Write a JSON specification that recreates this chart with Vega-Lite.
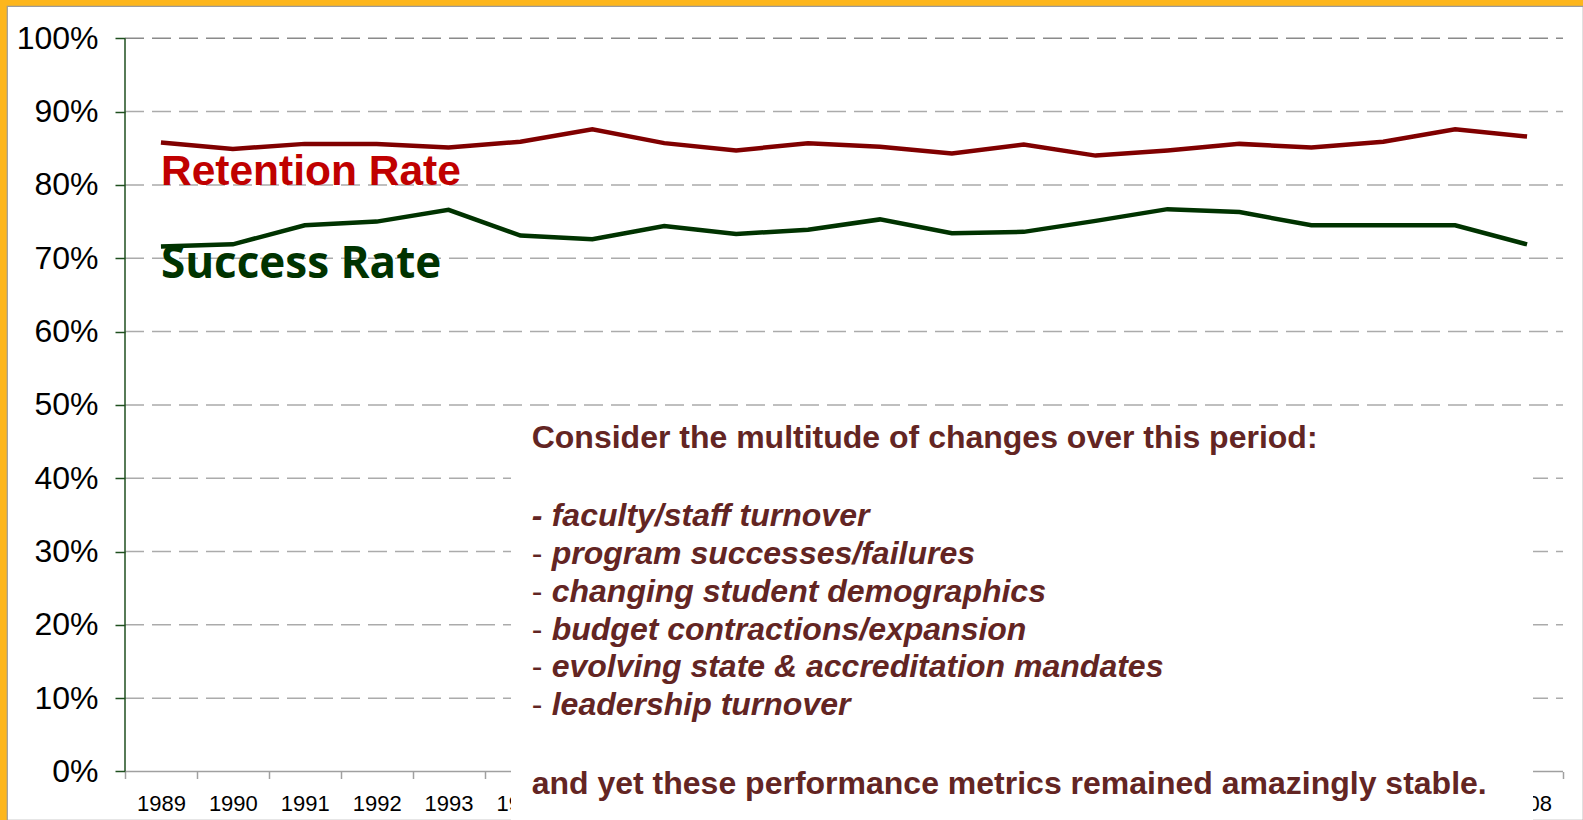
{
  "$schema": "https://vega.github.io/schema/vega-lite/v6.json",
  "width": 1576,
  "height": 814,
  "autosize": {"type": "none"},
  "padding": {"left": 7, "top": 6, "right": 0, "bottom": 0},
  "background": "#FDB61C",
  "config": {"view": {"fill": "#FFFFFF", "stroke": "#9C9C9C", "strokeWidth": 1.2}},
  "datasets": {
    "rates": [
      {"year": 1989, "series": "Retention Rate", "rate": 85.8},
      {"year": 1990, "series": "Retention Rate", "rate": 84.9},
      {"year": 1991, "series": "Retention Rate", "rate": 85.6},
      {"year": 1992, "series": "Retention Rate", "rate": 85.6},
      {"year": 1993, "series": "Retention Rate", "rate": 85.1},
      {"year": 1994, "series": "Retention Rate", "rate": 85.9},
      {"year": 1995, "series": "Retention Rate", "rate": 87.6},
      {"year": 1996, "series": "Retention Rate", "rate": 85.7},
      {"year": 1997, "series": "Retention Rate", "rate": 84.7},
      {"year": 1998, "series": "Retention Rate", "rate": 85.7},
      {"year": 1999, "series": "Retention Rate", "rate": 85.2},
      {"year": 2000, "series": "Retention Rate", "rate": 84.3},
      {"year": 2001, "series": "Retention Rate", "rate": 85.5},
      {"year": 2002, "series": "Retention Rate", "rate": 84.0},
      {"year": 2003, "series": "Retention Rate", "rate": 84.7},
      {"year": 2004, "series": "Retention Rate", "rate": 85.6},
      {"year": 2005, "series": "Retention Rate", "rate": 85.1},
      {"year": 2006, "series": "Retention Rate", "rate": 85.9},
      {"year": 2007, "series": "Retention Rate", "rate": 87.6},
      {"year": 2008, "series": "Retention Rate", "rate": 86.6},
      {"year": 1989, "series": "Success Rate", "rate": 71.6},
      {"year": 1990, "series": "Success Rate", "rate": 71.9},
      {"year": 1991, "series": "Success Rate", "rate": 74.5},
      {"year": 1992, "series": "Success Rate", "rate": 75.0},
      {"year": 1993, "series": "Success Rate", "rate": 76.6},
      {"year": 1994, "series": "Success Rate", "rate": 73.1},
      {"year": 1995, "series": "Success Rate", "rate": 72.6},
      {"year": 1996, "series": "Success Rate", "rate": 74.4},
      {"year": 1997, "series": "Success Rate", "rate": 73.3},
      {"year": 1998, "series": "Success Rate", "rate": 73.9},
      {"year": 1999, "series": "Success Rate", "rate": 75.3},
      {"year": 2000, "series": "Success Rate", "rate": 73.4},
      {"year": 2001, "series": "Success Rate", "rate": 73.6},
      {"year": 2002, "series": "Success Rate", "rate": 75.1},
      {"year": 2003, "series": "Success Rate", "rate": 76.7},
      {"year": 2004, "series": "Success Rate", "rate": 76.3},
      {"year": 2005, "series": "Success Rate", "rate": 74.5},
      {"year": 2006, "series": "Success Rate", "rate": 74.5},
      {"year": 2007, "series": "Success Rate", "rate": 74.5},
      {"year": 2008, "series": "Success Rate", "rate": 71.9}
    ],
    "grid": [
      {"pct": 10}, {"pct": 20}, {"pct": 30}, {"pct": 40}, {"pct": 50},
      {"pct": 60}, {"pct": 70}, {"pct": 80}, {"pct": 90}, {"pct": 100}
    ]
  },
  "layer": [
    {
      "data": {"name": "grid"},
      "mark": {"type": "rule", "strokeWidth": 1.5, "strokeDash": [19, 8]},
      "encoding": {
        "x": {"datum": 1988.5, "type": "quantitative"},
        "x2": {"datum": 2008.5},
        "y": {"field": "pct", "type": "quantitative"},
        "color": {"condition": {"test": "datum.pct == 100", "value": "#8A8A8A"}, "value": "#ABABAB"}
      }
    },
    {
      "data": {"values": [{}]},
      "mark": {"type": "rule", "color": "#A0A0A0", "strokeWidth": 1.5},
      "encoding": {
        "x": {"datum": 1988.5, "type": "quantitative"},
        "x2": {"datum": 2008.5},
        "y": {"datum": 0, "type": "quantitative"}
      }
    },
    {
      "data": {"values": [{}]},
      "mark": {"type": "rule", "color": "#1F4F1F", "strokeWidth": 1.5},
      "encoding": {
        "x": {"datum": 1988.5, "type": "quantitative"},
        "y": {"datum": 0, "type": "quantitative"},
        "y2": {"datum": 100}
      }
    },
    {
      "data": {"name": "rates"},
      "mark": {"type": "line", "strokeWidth": 4.5},
      "encoding": {
        "x": {
          "field": "year", "type": "quantitative",
          "scale": {"domain": [1986.8588, 2008.7782], "nice": false, "zero": false},
          "axis": {
            "title": null,
            "values": [1988.5, 1989.5, 1990.5, 1991.5, 1992.5, 1993.5, 1994.5, 1995.5, 1996.5, 1997.5, 1998.5, 1999.5, 2000.5, 2001.5, 2002.5, 2003.5, 2004.5, 2005.5, 2006.5, 2007.5, 2008.5],
            "labelExpr": "datum.value > 2008 ? '' : '' + (datum.value + 0.5)",
            "labelOffset": 35.95,
            "offset": -48.5,
            "domain": false,
            "grid": false,
            "tickSize": 7,
            "tickColor": "#A0A0A0",
            "tickWidth": 1.5,
            "labelFont": "Liberation Sans",
            "labelFontSize": 22,
            "labelColor": "#000000",
            "labelPadding": 15
          }
        },
        "y": {
          "field": "rate", "type": "quantitative",
          "scale": {"domain": [-6.615, 104.405], "nice": false, "zero": false},
          "axis": {
            "title": null,
            "values": [0, 10, 20, 30, 40, 50, 60, 70, 80, 90, 100],
            "labelExpr": "datum.value + '%'",
            "offset": -118,
            "domain": false,
            "grid": false,
            "tickSize": 10,
            "tickColor": "#1F4F1F",
            "tickWidth": 1.5,
            "labelFont": "Liberation Sans",
            "labelFontSize": 32,
            "labelColor": "#000000",
            "labelPadding": 17
          }
        },
        "color": {
          "field": "series", "type": "nominal",
          "scale": {"domain": ["Retention Rate", "Success Rate"], "range": ["#800000", "#003300"]},
          "legend": null
        }
      }
    },
    {
      "data": {"values": [{}]},
      "mark": {"type": "text", "text": "Retention Rate", "font": "Liberation Sans", "fontWeight": "bold", "fontSize": 42.5, "color": "#C00000", "align": "left", "baseline": "alphabetic"},
      "encoding": {
        "x": {"datum": 1989.0, "type": "quantitative"},
        "y": {"datum": 80.0, "type": "quantitative"}
      }
    },
    {
      "data": {"values": [{}]},
      "mark": {"type": "text", "text": "Success Rate", "font": "Open Sans", "fontWeight": "bold", "fontSize": 44, "color": "#003300", "align": "left", "baseline": "alphabetic"},
      "encoding": {
        "x": {"datum": 1989.0, "type": "quantitative"},
        "y": {"datum": 67.3, "type": "quantitative"}
      }
    },
    {
      "data": {"values": [{}]},
      "mark": {"type": "rect", "fill": "#FFFFFF"},
      "encoding": {
        "x": {"datum": 1993.8686, "type": "quantitative"},
        "x2": {"datum": 2008.083},
        "y": {"datum": -6.7, "type": "quantitative"},
        "y2": {"datum": 49.0}
      }
    },
    {
      "data": {"values": [{}]},
      "mark": {"type": "text", "text": "Consider the multitude of changes over this period:", "font": "Liberation Sans", "fontWeight": "bold", "fontSize": 32, "color": "#632523", "align": "left", "baseline": "alphabetic"},
      "encoding": {
        "x": {"datum": 1994.1565, "type": "quantitative"},
        "y": {"datum": 44.07, "type": "quantitative"}
      }
    },
    {
      "data": {"values": [{}]},
      "mark": {"type": "text", "text": "-", "font": "Liberation Sans", "fontWeight": "bold", "fontStyle": "italic", "fontSize": 32, "color": "#632523", "align": "left", "baseline": "alphabetic"},
      "encoding": {
        "x": {"datum": 1994.1565, "type": "quantitative"},
        "y": {"datum": 33.5, "type": "quantitative"}
      }
    },
    {
      "data": {"values": [{}]},
      "mark": {"type": "text", "text": ["-", "-", "-", "-", "-"], "lineHeight": 37.9, "font": "Liberation Sans", "fontWeight": "normal", "fontSize": 32, "color": "#632523", "align": "left", "baseline": "alphabetic"},
      "encoding": {
        "x": {"datum": 1994.1565, "type": "quantitative"},
        "y": {"datum": 28.33, "type": "quantitative"}
      }
    },
    {
      "data": {"values": [{}]},
      "mark": {"type": "text", "text": ["faculty/staff turnover", "program successes/failures", "changing student demographics", "budget contractions/expansion", "evolving state & accreditation mandates", "leadership turnover"], "lineHeight": 37.9, "font": "Liberation Sans", "fontWeight": "bold", "fontStyle": "italic", "fontSize": 32, "color": "#632523", "align": "left", "baseline": "alphabetic"},
      "encoding": {
        "x": {"datum": 1994.4346, "type": "quantitative"},
        "y": {"datum": 33.5, "type": "quantitative"}
      }
    },
    {
      "data": {"values": [{}]},
      "mark": {"type": "text", "text": "and yet these performance metrics remained amazingly stable.", "font": "Liberation Sans", "fontWeight": "bold", "fontSize": 32, "color": "#632523", "align": "left", "baseline": "alphabetic"},
      "encoding": {
        "x": {"datum": 1994.1565, "type": "quantitative"},
        "y": {"datum": -3.1, "type": "quantitative"}
      }
    }
  ]
}
